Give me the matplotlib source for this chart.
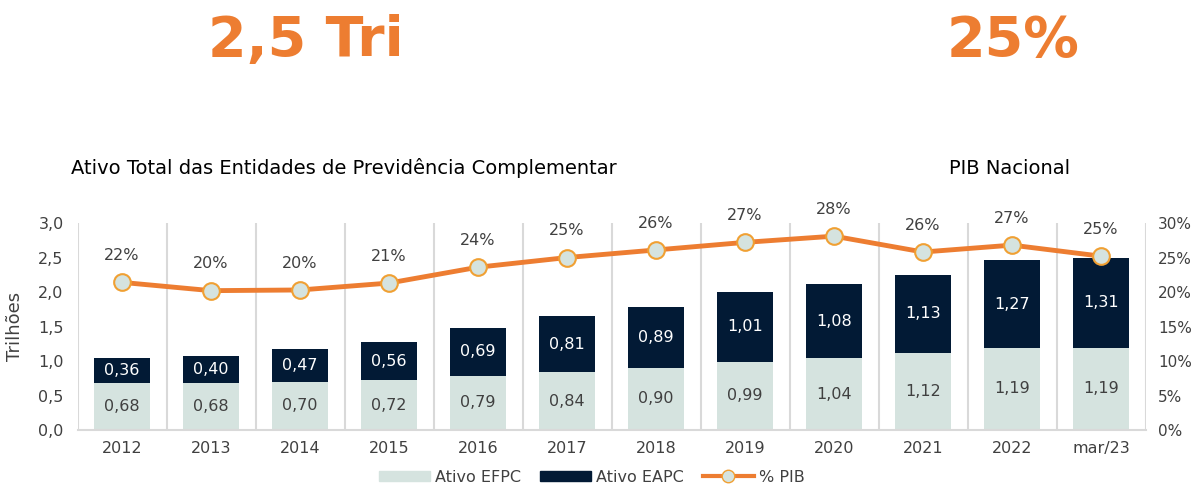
import numpy as np
import matplotlib
matplotlib.use("Agg")
import matplotlib.pyplot as plt
from matplotlib.patches import Patch
from matplotlib.lines import Line2D

plt.rcParams['font.family'] = ['DejaVu Sans']

categorias = ["2012", "2013", "2014", "2015", "2016", "2017", "2018", "2019",
              "2020", "2021", "2022", "mar/23"]
ativo_efpc = [0.68, 0.68, 0.70, 0.72, 0.79, 0.84, 0.90, 0.99, 1.04, 1.12, 1.19, 1.19]
ativo_eapc = [0.36, 0.40, 0.47, 0.56, 0.69, 0.81, 0.89, 1.01, 1.08, 1.13, 1.27, 1.31]
pib_pct = [21.4, 20.2, 20.3, 21.3, 23.6, 25.0, 26.1, 27.2, 28.1, 25.8, 26.8, 25.2]
pib_rotulos = ["22%", "20%", "20%", "21%", "24%", "25%", "26%", "27%", "28%",
               "26%", "27%", "25%"]

laranja = "#ED7D31"
borda_marcador = "#F0A033"
claro = "#D5E3DF"
escuro = "#021A35"
cinza_txt = "#404040"
cinza_linha = "#D9D9D9"

fig = plt.figure(figsize=(11.95, 4.87), dpi=100)
ax = fig.add_axes([0.0649, 0.117, 0.8937, 0.425])
x = np.arange(len(categorias))
w = 0.62

ax.bar(x, ativo_efpc, w, color=claro, zorder=2)
ax.bar(x, ativo_eapc, w, bottom=ativo_efpc, color=escuro, zorder=2)
for i in range(len(x)):
    ax.text(x[i], ativo_efpc[i] / 2, f"{ativo_efpc[i]:.2f}".replace(".", ","),
            ha="center", va="center", fontsize=11.5, color=cinza_txt, zorder=3)
    ax.text(x[i], ativo_efpc[i] + ativo_eapc[i] / 2,
            f"{ativo_eapc[i]:.2f}".replace(".", ","),
            ha="center", va="center", fontsize=11.5, color="white", zorder=3)

ax.set_xlim(-0.5, len(x) - 0.5)
ax.set_ylim(0, 3.0)
ax.set_yticks(np.arange(0, 3.01, 0.5))
ax.set_yticklabels([f"{v:.1f}".replace(".", ",") for v in np.arange(0, 3.01, 0.5)])
ax.set_xticks(x)
ax.set_xticklabels(categorias)
for s in ["top", "right", "left"]:
    ax.spines[s].set_visible(False)
ax.spines["bottom"].set_color(cinza_linha)
ax.spines["bottom"].set_linewidth(1.5)
for b in np.arange(-0.5, len(x), 1.0):
    ax.axvline(b, color=cinza_linha, lw=1.5, zorder=1)
ax.tick_params(axis="both", length=0, labelsize=11.5, colors=cinza_txt, pad=8)
ax.tick_params(axis="y", pad=10)
ax.set_ylabel("Trilhões", fontsize=13, color=cinza_txt, labelpad=10)

ax2 = ax.twinx()
ax2.set_ylim(0, 30)
ax2.set_yticks(np.arange(0, 31, 5))
ax2.set_yticklabels([f"{v}%" for v in range(0, 31, 5)])
for s in ["top", "right", "left", "bottom"]:
    ax2.spines[s].set_visible(False)
ax2.tick_params(axis="y", length=0, labelsize=11, colors=cinza_txt, pad=9)
ax2.plot(x, pib_pct, color=laranja, lw=3.5, marker="o", markersize=12,
         markerfacecolor=claro, markeredgecolor=borda_marcador,
         markeredgewidth=1.5, zorder=4)
for i in range(len(x)):
    ax2.annotate(pib_rotulos[i], (x[i], pib_pct[i]), xytext=(0, 14),
                 textcoords="offset points", ha="center", va="bottom",
                 fontsize=11.5, color=cinza_txt)

fig.text(0.256, 0.915, "2,5 Tri", ha="center", va="center", fontsize=40,
         fontweight="bold", color=laranja)
fig.text(0.848, 0.915, "25%", ha="center", va="center", fontsize=40,
         fontweight="bold", color=laranja)
fig.text(0.059, 0.655, "Ativo Total das Entidades de Previdência Complementar",
         ha="left", va="center", fontsize=14, color="black")
fig.text(0.845, 0.655, "PIB Nacional", ha="center", va="center",
         fontsize=14, color="black")

handles = [Patch(color=claro), Patch(color=escuro),
           Line2D([0], [0], color=laranja, lw=3, marker="o", markersize=9,
                  markerfacecolor=claro, markeredgecolor=borda_marcador)]
fig.legend(handles, ["Ativo EFPC", "Ativo EAPC", "% PIB"], loc="center",
           bbox_to_anchor=(0.495, 0.02), ncol=3, frameon=False, fontsize=11.5,
           handlelength=3.2, handleheight=0.6, columnspacing=1.2,
           handletextpad=0.3, labelcolor=cinza_txt)

fig.savefig("out.png", dpi=100)
